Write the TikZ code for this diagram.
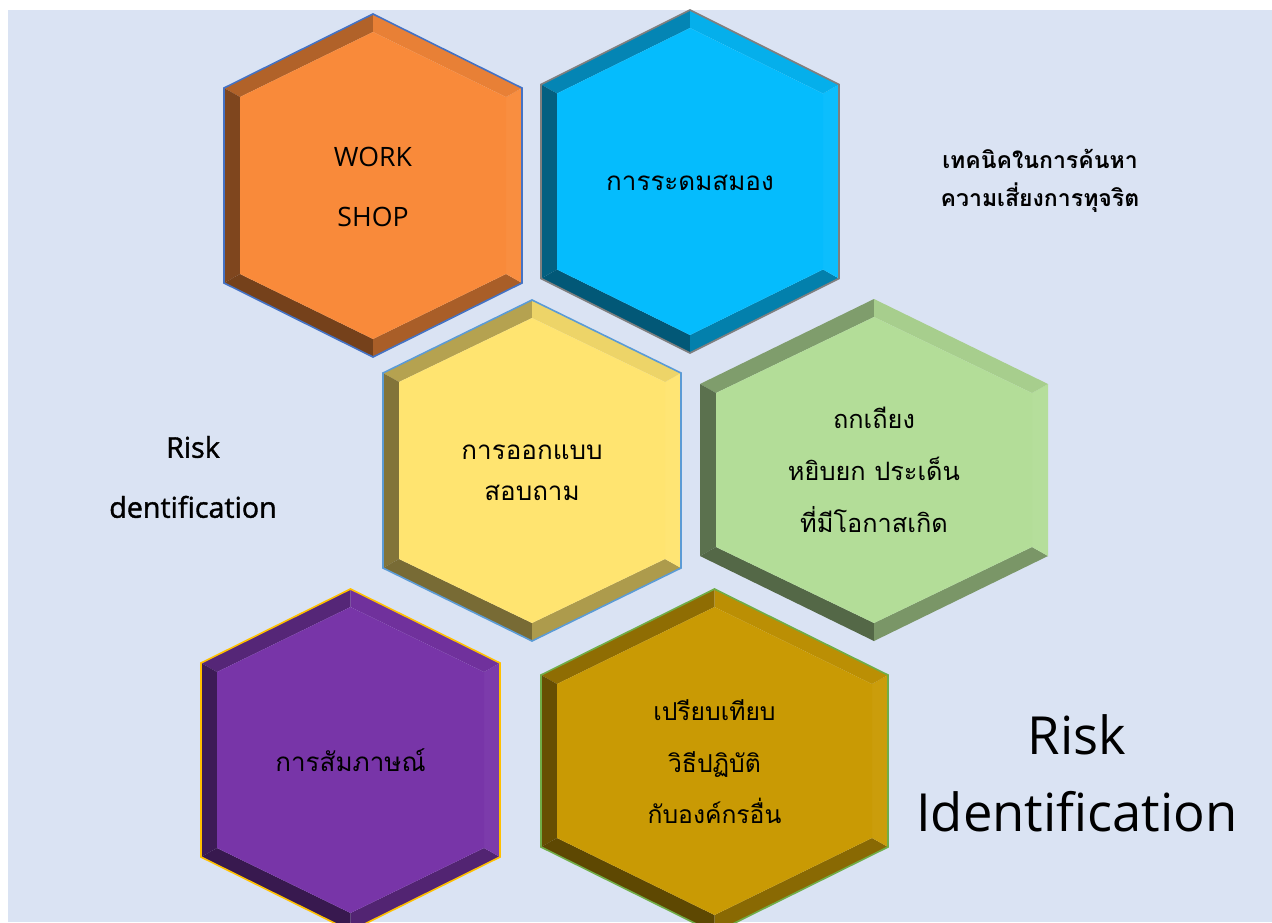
\documentclass[tikz,border=0pt]{standalone}
\usepackage{fontspec}
\setmainfont{Open Sans}
\newfontfamily\thaifont[Script=Thai]{Loma}
\newfontfamily\sidefont[FakeBold=1.3]{Open Sans}

\definecolor{pageBg}{HTML}{DAE3F3}
\definecolor{orangeHex}{HTML}{F98A3A}
\definecolor{blueHex}{HTML}{05BCFD}
\definecolor{yellowHex}{HTML}{FFE470}
\definecolor{greenHex}{HTML}{B3DD98}
\definecolor{purpleHex}{HTML}{7835A8}
\definecolor{goldHex}{HTML}{C99A04}
\definecolor{edgeBlue}{HTML}{4472C4}
\definecolor{edgeLight}{HTML}{5B9BD5}
\definecolor{edgeGray}{HTML}{7F7F7F}
\definecolor{edgeAmber}{HTML}{FFC000}
\definecolor{edgeGreen}{HTML}{70AD47}

% bevelled hexagon: centre x, centre y, half width, half side, half height, fill, outline
\newcommand{\bevelhex}[7]{%
  \coordinate (T) at (#1,{#2-#5});
  \coordinate (UR) at ({#1+#3},{#2-#4});
  \coordinate (LR) at ({#1+#3},{#2+#4});
  \coordinate (B) at (#1,{#2+#5});
  \coordinate (LL) at ({#1-#3},{#2+#4});
  \coordinate (UL) at ({#1-#3},{#2-#4});
  \coordinate (iT) at (#1,{#2-#5+18});
  \coordinate (iUR) at ({#1+#3-16},{#2-#4+9});
  \coordinate (iLR) at ({#1+#3-16},{#2+#4-9});
  \coordinate (iB) at (#1,{#2+#5-18});
  \coordinate (iLL) at ({#1-#3+16},{#2+#4-9});
  \coordinate (iUL) at ({#1-#3+16},{#2-#4+9});
  \fill[#6!71!black] (T) -- (UL) -- (iUL) -- (iT) -- cycle;
  \fill[#6!51!black] (UL) -- (LL) -- (iLL) -- (iUL) -- cycle;
  \fill[#6!47!black] (LL) -- (B) -- (iB) -- (iLL) -- cycle;
  \fill[#6!68!black] (B) -- (LR) -- (iLR) -- (iB) -- cycle;
  \fill[#6!97!white] (LR) -- (UR) -- (iUR) -- (iLR) -- cycle;
  \fill[#6!93!black] (UR) -- (T) -- (iT) -- (iUR) -- cycle;
  \fill[#6] (iT) -- (iUR) -- (iLR) -- (iB) -- (iLL) -- (iUL) -- cycle;
  \path[draw=#7, line width=1.2pt, line join=miter] (T) -- (UR) -- (LR) -- (B) -- (LL) -- (UL) -- cycle;
}

\tikzset{
  hexlatin/.style={font=\fontsize{20}{45}\selectfont, align=center, inner sep=0.75pt},
  hexthai/.style={font=\thaifont\fontsize{19}{39}\selectfont, align=center, inner sep=0.75pt},
  sidelabel/.style={font=\sidefont\fontsize{21.5}{45}\selectfont, align=center, inner sep=0.75pt}
}

\begin{document}
\begin{tikzpicture}[x=0.75pt,y=0.75pt,yscale=-1,xscale=1]
	\useasboundingbox (0,0) rectangle (1272,922);
	\clip (0,0) rectangle (1272,922);
	
	%Shape: Rectangle (page)
	\fill[white] (0,0) rectangle (1272,922);
	\fill[pageBg] (8,10) rectangle (1272,922);
	
	%Shape: Hexagon (orange)
	\bevelhex{373}{185.5}{149}{97.5}{171.5}{orangeHex}{edgeBlue}
	%Shape: Hexagon (blue)
	\bevelhex{690}{181.5}{149}{97}{171.5}{blueHex}{edgeGray}
	%Shape: Hexagon (yellow)
	\bevelhex{532}{470.5}{149}{97.5}{170.5}{yellowHex}{edgeLight}
	%Shape: Hexagon (green)
	\bevelhex{874}{470}{174}{86}{171}{greenHex}{none}
	%Shape: Hexagon (purple)
	\bevelhex{350.5}{760}{149.5}{97}{171}{purpleHex}{edgeAmber}
	%Shape: Hexagon (gold)
	\bevelhex{714.5}{761}{173.5}{86}{172}{goldHex}{edgeGreen}
	
	% Text Node
	\draw (373,187) node (workshop) [hexlatin] {WORK\\SHOP};
	% Text Node
	\draw (690,183) node (brainstorm) [hexthai, font=\thaifont\fontsize{19.5}{39}\selectfont] {การระดมสมอง};
	% Text Node
	\draw (532,472.5) node (survey) [hexthai, font=\thaifont\fontsize{19.5}{31}\selectfont] {การออกแบบ\\สอบถาม};
	% Text Node
	\draw (874,470) node (debate) [hexthai] {ถกเถียง\\หยิบยก ประเด็น\\ที่มีโอกาสเกิด};
	% Text Node
	\draw (350.5,760) node (interview) [hexthai, font=\thaifont\fontsize{19.5}{39}\selectfont] {การสัมภาษณ์};
	% Text Node
	\draw (714.5,762) node (benchmark) [hexthai, font=\thaifont\fontsize{18.5}{38.6}\selectfont] {เปรียบเทียบ\\วิธีปฏิบัติ\\กับองค์กรอื่น};
	
	% Text Node
	\draw (1040,181) node (technique) [align=center, inner sep=0.75pt, font=\thaifont\bfseries\fontsize{17.3}{28}\selectfont] {เทคนิคในการค้นหา\\ความเสี่ยงการทุจริต};
	% Text Node
	\draw (193,477) node (riskleft) [sidelabel] {Risk\\dentification};
	% Text Node
	\draw (1077,773) node (riskbig) [align=center, inner sep=0.75pt, font=\fontsize{39.4}{58}\selectfont] {Risk\\Identification};
\end{tikzpicture}
\end{document}
